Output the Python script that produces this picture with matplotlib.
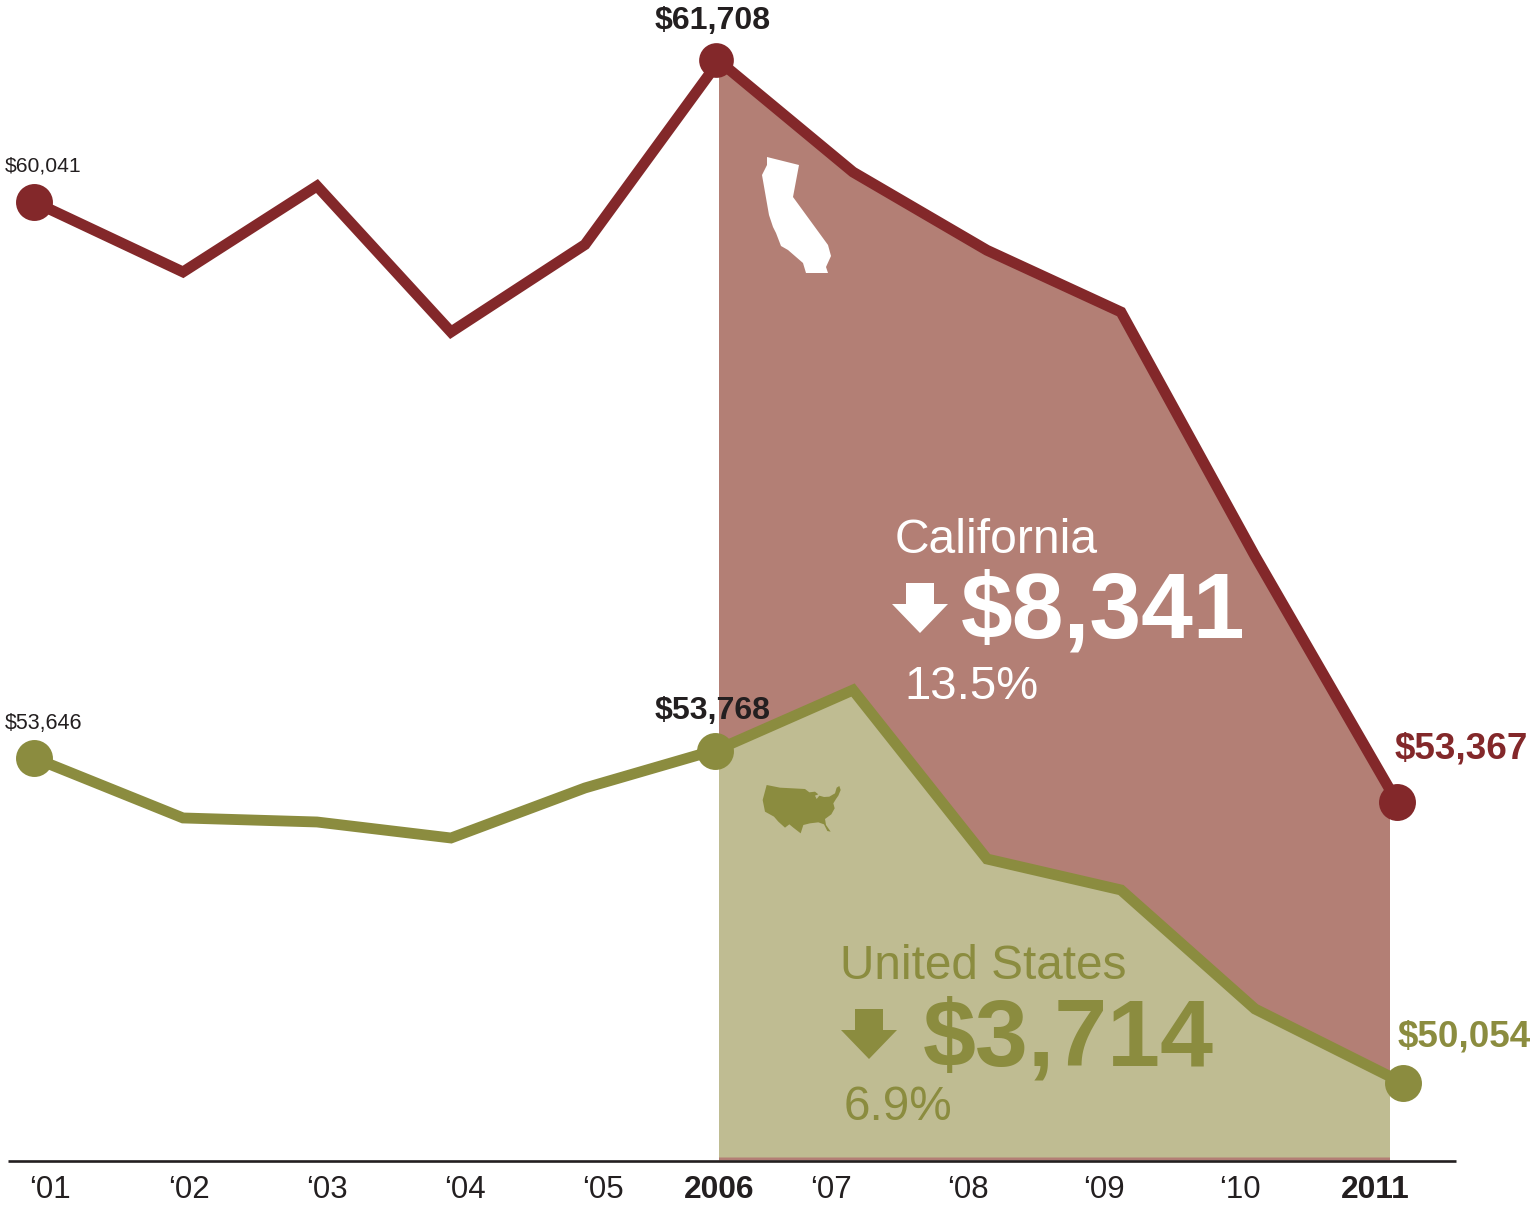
import matplotlib
matplotlib.use("Agg")
import matplotlib.pyplot as plt
from matplotlib.patches import Polygon, Rectangle

plt.rcParams["font.family"] = ["Liberation Sans", "DejaVu Sans"]

W, H = 1535, 1206
CA_COLOR = "#83282a"
US_COLOR = "#8b8c3f"
CA_FILL = "#b37f75"
US_FILL = "#bfbc92"
INK = "#231f20"

# line vertices
line_years = [2000.89, 2002, 2003, 2004, 2005, 2006, 2007, 2008, 2009, 2010]
ca_values = [60097, 59297, 60279, 58611, 59610, 61708, 60439, 59545, 58839, 56051]
us_values = [53742, 53057, 53011, 52828, 53400, 53845, 54519, 52588, 52234, 50874]
ca_end = (2011.06, 53240)
us_end = (2011.104, 50028)

# the round markers sit a little off the lines
ca_dot_years = [2000.89, 2011.06]
ca_dot_values = [60097, 53240]
ca_peak = (2005.975, 61720)
us_dot_years = [2000.89, 2005.97, 2011.104]
us_dot_values = [53742, 53822, 50028]

tick_labels = ["\u201801", "\u201802", "\u201803", "\u201804", "\u201805", "2006",
               "\u201807", "\u201808", "\u201809", "\u201810", "2011"]
tick_px = [50, 189, 327, 465, 603, 720, 832, 968, 1104, 1240, 1376]

# silhouettes, in picture pixels
california = [(767, 157), (799, 165), (793, 197), (828, 245), (831, 256), (826, 267),
              (828, 273), (806, 273), (803, 263), (788, 250), (781, 246), (776, 233),
              (773, 227), (769, 215), (762, 175), (767, 165)]
usa_zoom = [(50, 30), (90, 38), (165, 42), (178, 52), (195, 50), (205, 58), (195, 62),
            (200, 72), (208, 62), (222, 66), (238, 65), (255, 55), (260, 38), (268, 33),
            (272, 45), (265, 62), (258, 72), (250, 85), (254, 100), (244, 118), (225, 132),
            (228, 150), (242, 170), (232, 168), (222, 148), (205, 142), (180, 145),
            (160, 150), (152, 175), (130, 158), (118, 148), (105, 158),
            (85, 140), (72, 125), (45, 110), (38, 75)]
usa = [(750 + x / 3, 775 + y / 3) for x, y in usa_zoom]


def year_at(px):
    return 2001 + (px - 49) / 134


def value_at(py):
    return 61708 - (py - 61) / 0.0875


fig = plt.figure(figsize=(W / 100, H / 100), dpi=100)
ax = fig.add_axes([0, 0, 1, 1])
ax.set_xlim(year_at(0), year_at(W))
ax.set_ylim(value_at(H), value_at(0))
ax.axis("off")

# overlay in pixels for the text and the small shapes
px = fig.add_axes([0, 0, 1, 1])
px.set_xlim(0, W)
px.set_ylim(H, 0)
px.axis("off")
px.patch.set_alpha(0)

ca_x = line_years + [ca_end[0]]
ca_y = ca_values + [ca_end[1]]
us_x = line_years + [us_end[0]]
us_y = us_values + [us_end[1]]

clip = Rectangle((2006, value_at(1160)), year_at(1388.5) - 2006, value_at(0) - value_at(1160),
                 transform=ax.transData)
f1 = ax.fill_between(ca_x, ca_y, value_at(1160), color=CA_FILL, lw=0, zorder=1)
f2 = ax.fill_between(us_x, us_y, value_at(1157), color=US_FILL, lw=0, zorder=2)
f1.set_clip_path(clip)
f2.set_clip_path(clip)

ax.plot(ca_x, ca_y, color=CA_COLOR, lw=7.8, solid_joinstyle="miter", solid_capstyle="butt", zorder=3)
ax.plot(us_x, us_y, color=US_COLOR, lw=7.8, solid_joinstyle="miter", solid_capstyle="butt", zorder=3)
ax.plot(ca_dot_years, ca_dot_values, "o", color=CA_COLOR, ms=26.6, mew=0, zorder=4)
ax.plot(ca_peak[0], ca_peak[1], "o", color=CA_COLOR, ms=25, mew=0, zorder=4)
ax.plot(us_dot_years, us_dot_values, "o", color=US_COLOR, ms=26.6, mew=0, zorder=4)

px.plot([8, 1456], [1161, 1161], color=INK, lw=1.9, solid_capstyle="butt")

px.add_patch(Polygon(california, closed=True, fc="white", ec="none"))
px.add_patch(Polygon(usa, closed=True, fc=US_COLOR, ec="none"))


def down_arrow(x, y, color):
    shape = [(x + 14, y), (x + 42, y), (x + 42, y + 21), (x + 56, y + 21),
             (x + 28, y + 50), (x, y + 21), (x + 14, y + 21)]
    px.add_patch(Polygon(shape, closed=True, fc=color, ec="none"))


down_arrow(892, 583, "white")
down_arrow(841, 1009, US_COLOR)


def label(x, y, s, size, color=INK, bold=False, ha="left"):
    px.text(x, y, s, fontsize=size, color=color, ha=ha, va="baseline",
            fontweight="bold" if bold else "normal")


for x, s in zip(tick_px, tick_labels):
    is_year = len(s) == 4
    label(x - 0.5, 1198, s, 22.9 if is_year else 22.5, bold=is_year, ha="center")

label(712.5, 29, "$61,708", 23.1, bold=True, ha="center")
label(712.5, 719, "$53,768", 23.1, bold=True, ha="center")
label(5, 172, "$60,041", 15.2)
label(5, 729, "$53,646", 15.5)
label(1395, 758, "$53,367", 26.6, color=CA_COLOR, bold=True)
label(1398, 1046, "$50,054", 26.6, color=US_COLOR, bold=True)

label(894.5, 553, "California", 34.6, color="white")
label(961, 638, "$8,341", 67, color="white", bold=True)
label(904, 699, "13.5%", 34, color="white")
label(840, 979, "United States", 34.4, color=US_COLOR)
label(923, 1065, "$3,714", 68.5, color=US_COLOR, bold=True)
label(844, 1120, "6.9%", 34.3, color=US_COLOR)

fig.savefig("out.png", dpi=100)
